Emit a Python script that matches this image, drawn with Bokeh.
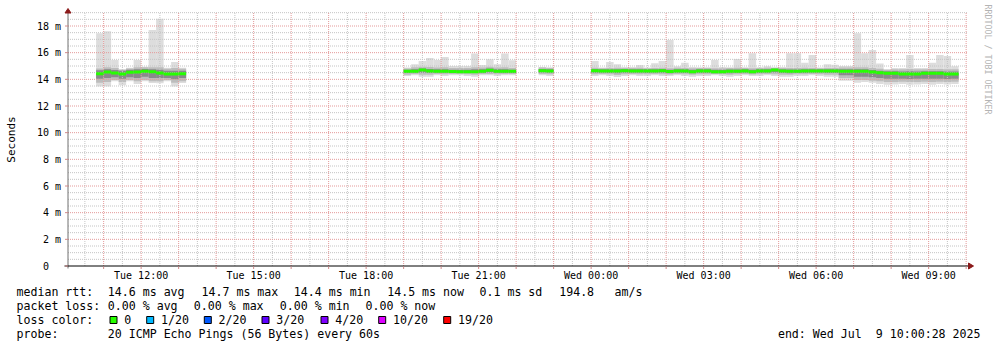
import math
from bokeh.plotting import figure
from bokeh.layouts import column
from bokeh.models import Range1d, FixedTicker, ColumnDataSource
from bokeh.core.properties import value
from bokeh.embed import file_html
from bokeh.resources import INLINE

# ---------------- data ----------------
SLOT_H = 0.2  # 12-minute consolidation step, in hours

# slot start, hours since Tue 00:00
slot_start = [
    10.8, 11.0, 11.2, 11.4, 11.6, 11.8, 12.0, 12.2, 12.4, 12.6, 12.8, 13.0,
    19.0, 19.2, 19.4, 19.6, 19.8, 20.0, 20.2, 20.4, 20.6, 20.8, 21.0, 21.2, 21.4, 21.6, 21.8,
    22.6, 22.8,
    24.0, 24.2, 24.4, 24.6, 24.8, 25.0, 25.2, 25.4, 25.6, 25.8, 26.0, 26.2, 26.4, 26.6, 26.8,
    27.0, 27.2, 27.4, 27.6, 27.8, 28.0, 28.2, 28.4, 28.6, 28.8, 29.0, 29.2, 29.4, 29.6, 29.8,
    30.0, 30.2, 30.4, 30.6, 30.8, 31.0, 31.2, 31.4, 31.6, 31.8, 32.0, 32.2, 32.4, 32.6, 32.8,
    33.0, 33.2, 33.4, 33.6,
]

rtt_max = [
    17.45, 17.6, 15.45, 14.75, 14.87, 15.45, 14.95, 17.7, 18.55, 14.87, 15.3, 14.87,
    14.88, 15.13, 15.38, 15.6, 15.45, 15.68, 15.0, 15.0, 15.0, 15.93, 15.08, 15.5, 15.13, 15.93, 15.43,
    14.93, 14.9,
    15.38, 14.88, 15.3, 15.13, 14.92, 14.92, 15.08, 14.88, 15.2, 15.38, 16.95, 14.98, 15.25, 14.92,
    14.9, 14.9, 15.45, 14.92, 14.9, 15.53, 14.9, 15.95, 14.9, 14.98, 14.88, 14.92, 15.95, 15.95,
    15.25, 15.83, 14.88, 15.13, 15.1, 15.0, 15.0, 17.45, 15.95, 16.2, 15.18, 14.75, 14.85, 14.85,
    15.83, 14.85, 14.85, 15.25, 15.83, 15.75, 14.98,
]

rtt_p90 = [
    14.82, 14.9, 14.85, 14.72, 14.82, 14.9, 14.9, 14.9, 14.9, 14.8, 14.85, 14.8,
    14.82, 14.9, 14.95, 14.92, 14.88, 14.9, 14.85, 14.85, 14.85, 14.9, 14.88, 14.95, 14.88, 14.9, 14.85,
    14.88, 14.85,
    14.86, 14.84, 14.85, 14.86, 14.85, 14.85, 14.86, 14.84, 14.85, 14.86, 14.84, 14.86, 14.85, 14.84,
    14.85, 14.85, 14.84, 14.84, 14.85, 14.86, 14.85, 14.84, 14.85, 14.86, 14.86, 14.85, 14.85, 14.85,
    14.86, 14.85, 14.84, 14.85, 14.85, 14.88, 14.88, 14.9, 14.9, 14.85, 14.8, 14.72, 14.75, 14.75,
    14.78, 14.75, 14.75, 14.78, 14.78, 14.75, 14.75,
]

rtt_p75 = [
    14.68, 14.75, 14.7, 14.65, 14.72, 14.75, 14.78, 14.75, 14.72, 14.65, 14.65, 14.65,
    14.72, 14.75, 14.82, 14.78, 14.75, 14.75, 14.72, 14.72, 14.72, 14.75, 14.75, 14.82, 14.75, 14.75, 14.72,
    14.78, 14.75,
    14.78, 14.76, 14.76, 14.76, 14.78, 14.76, 14.76, 14.75, 14.76, 14.78, 14.72, 14.76, 14.76, 14.72,
    14.76, 14.76, 14.72, 14.72, 14.74, 14.74, 14.76, 14.72, 14.76, 14.76, 14.8, 14.76, 14.74, 14.74,
    14.76, 14.76, 14.76, 14.76, 14.76, 14.75, 14.75, 14.75, 14.75, 14.7, 14.65, 14.6, 14.6, 14.58,
    14.6, 14.58, 14.6, 14.6, 14.6, 14.58, 14.58,
]

rtt_median = [
    14.42, 14.55, 14.47, 14.4, 14.53, 14.55, 14.6, 14.57, 14.47, 14.4, 14.4, 14.42,
    14.6, 14.6, 14.7, 14.62, 14.6, 14.6, 14.58, 14.57, 14.57, 14.57, 14.6, 14.68, 14.6, 14.6, 14.6,
    14.65, 14.62,
    14.65, 14.63, 14.63, 14.63, 14.65, 14.63, 14.63, 14.63, 14.63, 14.65, 14.58, 14.63, 14.63, 14.57,
    14.63, 14.63, 14.57, 14.57, 14.6, 14.6, 14.63, 14.57, 14.63, 14.63, 14.7, 14.63, 14.6, 14.6,
    14.63, 14.63, 14.63, 14.63, 14.63, 14.6, 14.6, 14.6, 14.6, 14.55, 14.5, 14.45, 14.45, 14.4,
    14.4, 14.4, 14.45, 14.45, 14.45, 14.4, 14.4,
]

rtt_p25 = [
    14.05, 14.1, 14.15, 14.05, 14.15, 14.1, 14.2, 14.1, 14.1, 14.1, 14.0, 14.1,
    14.48, 14.5, 14.5, 14.48, 14.5, 14.5, 14.48, 14.47, 14.47, 14.47, 14.5, 14.52, 14.5, 14.48, 14.48,
    14.52, 14.5,
    14.5, 14.5, 14.48, 14.46, 14.5, 14.5, 14.5, 14.48, 14.5, 14.5, 14.46, 14.5, 14.48, 14.45,
    14.48, 14.48, 14.46, 14.46, 14.46, 14.47, 14.5, 14.46, 14.48, 14.5, 14.52, 14.47, 14.46, 14.47,
    14.48, 14.5, 14.5, 14.47, 14.47, 14.3, 14.3, 14.2, 14.2, 14.15, 14.1, 14.05, 14.05, 14.05,
    14.02, 14.05, 14.05, 14.05, 14.05, 14.02, 14.05,
]

rtt_p10 = [
    13.75, 13.8, 13.95, 13.8, 13.95, 13.85, 13.95, 13.85, 13.85, 13.95, 13.75, 13.85,
    14.35, 14.4, 14.35, 14.35, 14.4, 14.38, 14.4, 14.4, 14.38, 14.35, 14.4, 14.4, 14.38, 14.4, 14.4,
    14.4, 14.38,
    14.38, 14.4, 14.38, 14.32, 14.38, 14.4, 14.38, 14.38, 14.4, 14.38, 14.36, 14.4, 14.38, 14.34,
    14.38, 14.38, 14.4, 14.38, 14.34, 14.38, 14.4, 14.36, 14.38, 14.4, 14.38, 14.34, 14.34, 14.38,
    14.38, 14.4, 14.38, 14.34, 14.34, 14.1, 14.1, 13.95, 13.95, 13.9, 13.85, 13.8, 13.8, 13.82,
    13.8, 13.8, 13.82, 13.8, 13.82, 13.8, 13.82,
]

rtt_min = [
    13.47, 13.47, 13.85, 13.55, 13.85, 13.65, 13.85, 13.72, 13.7, 13.85, 13.47, 13.72,
    14.25, 14.3, 14.2, 14.2, 14.3, 14.25, 14.3, 14.3, 14.25, 14.2, 14.3, 14.3, 14.25, 14.3, 14.3,
    14.3, 14.25,
    14.25, 14.3, 14.25, 14.18, 14.25, 14.3, 14.25, 14.25, 14.3, 14.25, 14.25, 14.3, 14.25, 14.2,
    14.25, 14.25, 14.3, 14.25, 14.2, 14.25, 14.3, 14.25, 14.25, 14.3, 14.25, 14.2, 14.2, 14.25,
    14.25, 14.3, 14.25, 14.2, 14.2, 13.9, 13.9, 13.75, 13.8, 13.75, 13.65, 13.6, 13.62, 13.65,
    13.6, 13.62, 13.65, 13.6, 13.65, 13.62, 13.65,
]

x_tick_hours = [12, 15, 18, 21, 24, 27, 30, 33]
x_tick_labels = ["Tue 12:00", "Tue 15:00", "Tue 18:00", "Tue 21:00",
                 "Wed 00:00", "Wed 03:00", "Wed 06:00", "Wed 09:00"]
y_tick_values = [0, 2, 4, 6, 8, 10, 12, 14, 16, 18]
y_tick_labels = ["0", "2 m", "4 m", "6 m", "8 m", "10 m", "12 m", "14 m", "16 m", "18 m"]
y_title = "Seconds"
watermark = "RRDTOOL / TOBI OETIKER"

legend_rtt = ["median rtt:", "14.6 ms avg", "14.7 ms max", "14.4 ms min",
              "14.5 ms now", "0.1 ms sd", "194.8", "am/s"]
legend_loss = ["packet loss:", "0.00 % avg", "0.00 % max", "0.00 % min", "0.00 % now"]
loss_levels = ["0", "1/20", "2/20", "3/20", "4/20", "10/20", "19/20"]
loss_colors = ["#26ff00", "#00b8ff", "#0059ff", "#5e00ff", "#7e00ff", "#dd00ff", "#ff0000"]
probe_label = "probe:"
probe_text = "20 ICMP Echo Pings (56 Bytes) every 60s"
end_parts = ["end: Wed Jul", "9 10:00:28 2025"]   # "end: Wed Jul  9 10:00:28 2025"

# ---------------- layout ----------------
W = 997
H1 = 284            # chart part
H2 = 347 - H1       # legend part
FR_B = 270          # frame bottom (px) of the chart part
AX_X = 67.5         # pixel centre of the y axis line
AX_Y = 265.5        # pixel centre of the x axis line
PX_PER_H = 37.5
PX_PER_MS = 40.0 / 3.0
X0 = 10.05          # hours at the y axis
X1 = 34.05          # hours at the right end of the graph
Y1 = 19.0           # top of the graph (ms)


def hx(px):
    return X0 + (px - AX_X) / PX_PER_H


def my(py):
    return (AX_Y - py) / PX_PER_MS


MONO = "DejaVu Sans Mono"
TICK_COL = "#d08a8a"

p = figure(width=W, height=H1, output_backend="svg", toolbar_location=None,
           x_range=Range1d(hx(0), hx(W)), y_range=Range1d(my(FR_B), my(0)),
           y_axis_type=None,
           min_border_left=0, min_border_right=0,
           min_border_top=0, min_border_bottom=H1 - FR_B)
p.title.visible = False
p.outline_line_color = None
p.background_fill_color = "white"
p.border_fill_color = "white"
p.xgrid.visible = False

src = ColumnDataSource(dict(
    left=slot_start, right=[t + SLOT_H for t in slot_start],
    mn=rtt_min, p10=rtt_p10, p25=rtt_p25, med=rtt_median,
    p75=rtt_p75, p90=rtt_p90, mx=rtt_max))

# smoke
p.quad(left="left", right="right", bottom="mn", top="mx", source=src,
       fill_color="#dddddd", line_color=None)
p.quad(left="left", right="right", bottom="p10", top="p90", source=src,
       fill_color="#bcbcbc", line_color=None)
p.quad(left="left", right="right", bottom="p25", top="p75", source=src,
       fill_color="#8a8a8a", line_color=None)

# grid
minor_y = [k * 0.5 for k in range(1, 39) if k % 4 != 0]
major_y = [k * 2.0 for k in range(1, 10)]
minor_x = [h + 0.5 for h in range(10, 34)]
major_x = [float(h) for h in range(11, 35)]
p.segment(x0=[X0] * len(minor_y), x1=[X1] * len(minor_y), y0=minor_y, y1=minor_y,
          line_color="#c4c4c4", line_dash="1 1", line_width=1)
p.segment(x0=minor_x, x1=minor_x, y0=[0] * len(minor_x), y1=[Y1] * len(minor_x),
          line_color="#c4c4c4", line_dash="1 1", line_width=1)
p.segment(x0=[X0] * len(major_y), x1=[X1] * len(major_y), y0=major_y, y1=major_y,
          line_color="#e49a9a", line_dash="1 1", line_width=1)
p.segment(x0=major_x, x1=major_x, y0=[0] * len(major_x), y1=[Y1] * len(major_x),
          line_color="#e49a9a", line_dash="1 1", line_width=1)

# median (loss 0 colour)
p.segment(x0="left", x1="right", y0="med", y1="med", source=src,
          line_color=loss_colors[0], line_width=3)

# axis lines and arrows
p.segment(x0=[X0], x1=[X0], y0=[my(268)], y1=[my(12)], line_color="#707070", line_width=1)
p.segment(x0=[hx(64)], x1=[hx(968)], y0=[0], y1=[0], line_color="black", line_width=1)
arrow_col = "#8b1a1a"
p.patch(x=[hx(64.5), hx(70.5), hx(67.5)], y=[my(12.5), my(12.5), my(8)],
        fill_color=arrow_col, line_color=arrow_col)
p.patch(x=[hx(968), hx(968), hx(973)], y=[my(262.5), my(268.5), my(265.5)],
        fill_color=arrow_col, line_color=arrow_col)

# x tick marks below the axis line
p.segment(x0=major_x, x1=major_x, y0=[my(266)] * len(major_x), y1=[my(268.5)] * len(major_x),
          line_color=TICK_COL, line_width=1)

# y axis: ticks and labels on the chart's own y scale
p.segment(x0=[hx(64.5)] * len(y_tick_values), x1=[X0] * len(y_tick_values),
          y0=y_tick_values, y1=y_tick_values, line_color=TICK_COL, line_width=1)
y_label_px = [48.5 if lab == "0" else 60.5 for lab in y_tick_labels]
p.text(x=[hx(v) for v in y_label_px], y=y_tick_values, text=y_tick_labels,
       text_align="right", text_baseline="middle", text_color="black",
       text_font=value(MONO), text_font_size=value("10px"))
p.text(x=[hx(11)], y=[my(139)], text=[y_title], angle=math.pi / 2,
       text_align="center", text_baseline="middle", text_color="black",
       text_font=value(MONO), text_font_size=value("11px"))

# x axis: labels
p.xaxis.ticker = FixedTicker(ticks=x_tick_hours, minor_ticks=[])
p.xaxis.major_label_overrides = dict(zip(x_tick_hours, x_tick_labels))
ax = p.xaxis[0]
ax.axis_line_color = None
ax.major_label_text_font = MONO
ax.major_label_text_font_size = "10px"
ax.major_label_text_color = "black"
ax.major_tick_in = 0
ax.major_tick_out = 0
ax.major_tick_line_color = None
ax.minor_tick_line_color = None
ax.major_label_standoff = -1

# watermark
p.text(x=[hx(987)], y=[my(4)], text=[watermark], angle=-math.pi / 2,
       text_align="left", text_baseline="middle", text_color="#b4b4b4",
       text_font=value(MONO), text_font_size=value("8.3px"))

# ---------------- legend (page pixel coordinates) ----------------
q = figure(width=W, height=H2, output_backend="svg", toolbar_location=None,
           x_range=Range1d(0, W), y_range=Range1d(347, H1),
           x_axis_type=None, y_axis_type=None,
           min_border_left=0, min_border_right=0, min_border_top=0, min_border_bottom=0)
q.title.visible = False
q.outline_line_color = None
q.grid.visible = False
q.background_fill_color = "white"
q.border_fill_color = "white"

LEG_SIZE = "11.6px"
CH = 6.99  # monospace advance at LEG_SIZE
rtt_x = [16, 107.3, 201, 293.3, 386.7, 479, 558.7, 614]
loss_x = [16, 107.3, 193.3, 279.3, 365]
square_x = [109, 145.7, 203.3, 261, 320, 377.7, 442.7]

lx, ly, lt = [], [], []
for px, t in zip(rtt_x, legend_rtt):
    lx.append(px); ly.append(291); lt.append(t)
for px, t in zip(loss_x, legend_loss):
    lx.append(px); ly.append(305); lt.append(t)
lx.append(16); ly.append(319); lt.append("loss color:")
for px, lab in zip(square_x, loss_levels):
    lx.append(px + 14.8); ly.append(319); lt.append(lab)
lx += [16, 107.3]; ly += [333, 333]; lt += [probe_label, probe_text]

q.text(x=lx, y=ly, text=lt, text_font=value(MONO), text_font_size=value(LEG_SIZE),
       text_baseline="middle", text_align="left", text_color="black")
END_R = 980
q.text(x=[END_R - CH * (len(end_parts[1]) + 2), END_R], y=[333, 333], text=end_parts,
       text_font=value(MONO), text_font_size=value(LEG_SIZE),
       text_baseline="middle", text_align="right", text_color="black")
q.quad(left=[x + 0.5 for x in square_x], right=[x + 7.5 for x in square_x],
       top=[316] * len(square_x), bottom=[323] * len(square_x),
       fill_color=loss_colors, line_color="black", line_width=1)

open("out.html", "w").write(file_html(column(p, q, spacing=0), INLINE))
